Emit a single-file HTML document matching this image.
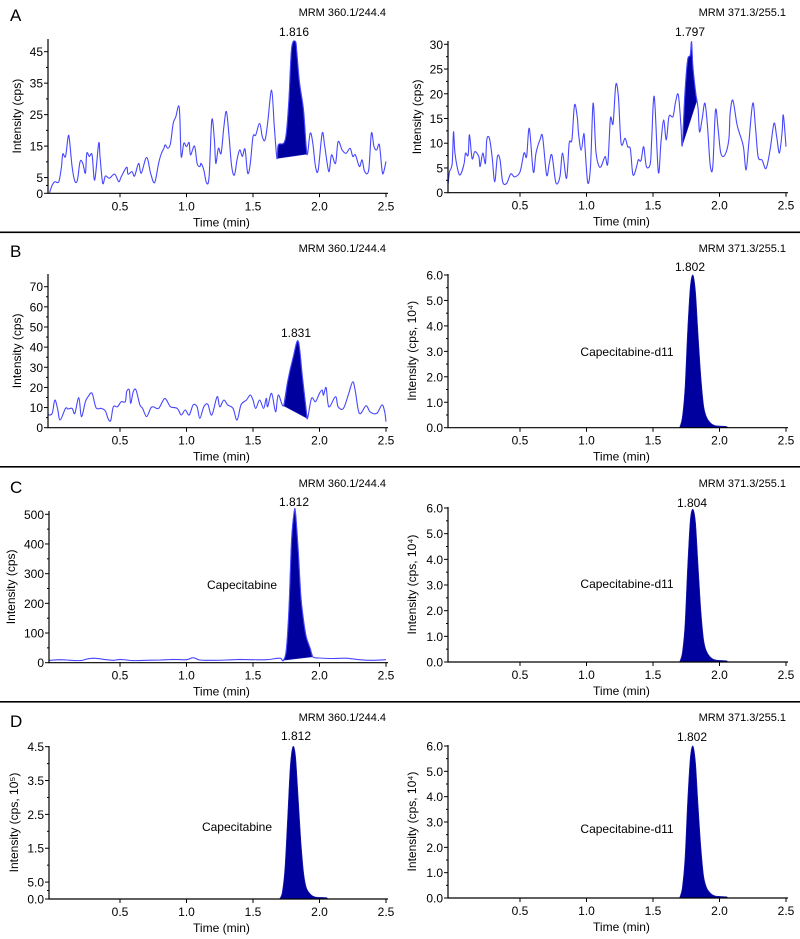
<!DOCTYPE html>
<html><head><meta charset="utf-8"><style>
html,body{margin:0;padding:0;background:#fff;}
svg{display:block;font-family:"Liberation Sans",Arial,sans-serif;}
</style></head><body>
<svg id="fig" width="800" height="939" viewBox="0 0 800 939" xmlns="http://www.w3.org/2000/svg">
<rect x="0" y="0" width="800" height="939" fill="#fff"/>
<rect x="0" y="231.5" width="800" height="1.6" fill="#000"/>
<rect x="0" y="466" width="800" height="1.6" fill="#000"/>
<rect x="0" y="701" width="800" height="1.6" fill="#000"/>
<text x="10" y="21" font-size="17">A</text>
<text x="10" y="257" font-size="17">B</text>
<text x="10" y="493" font-size="17">C</text>
<text x="10" y="727" font-size="17">D</text>
</svg>
<script>
// shared x axis
const xTicks=[0.5,1.0,1.5,2.0,2.5];
const xTickLabels=["0.5","1.0","1.5","2.0","2.5"];

// A left trace
const aLT=[-0.03,-0.01,0.01,0.04,0.06,0.07,0.09,0.11,0.12,0.14,0.16,0.18,0.20,0.22,0.24,0.25,0.27,0.29,0.31,0.34,0.35,0.37,0.39,0.42,0.46,0.49,0.51,0.55,0.56,0.59,0.61,0.64,0.66,0.70,0.73,0.76,0.79,0.81,0.83,0.84,0.86,0.88,0.90,0.92,0.94,0.95,0.96,0.98,1.00,1.02,1.03,1.06,1.08,1.10,1.11,1.13,1.15,1.17,1.19,1.21,1.22,1.24,1.26,1.28,1.30,1.32,1.34,1.36,1.38,1.40,1.42,1.44,1.46,1.48,1.50,1.52,1.55,1.57,1.59,1.61,1.64,1.66,1.68,1.69,1.73,1.75,1.77,1.79,1.82,1.83,1.85,1.88,1.90,1.91,1.93,1.95,1.97,1.99,2.02,2.04,2.07,2.09,2.12,2.14,2.17,2.20,2.23,2.25,2.27,2.30,2.32,2.34,2.37,2.39,2.41,2.43,2.45,2.47,2.48,2.50];
const aLV=[0.2,2.6,3.7,3.7,8.5,12.5,11.7,18.0,16.9,8.5,3.9,4.2,10.1,9.5,6.4,12.7,11.7,12.2,4.2,15.9,11.7,3.2,5.5,4.8,6.1,3.7,5.3,8.3,6.1,6.9,5.5,9.5,6.4,11.4,6.4,3.4,9.5,12.5,14.3,15.4,14.3,15.9,22.2,24.4,27.8,24.4,11.7,15.9,14.8,16.1,12.2,15.0,9.5,8.5,9.5,7.4,3.4,5.3,23.3,16.9,9.5,14.3,12.7,20.7,26.0,18.0,8.5,5.8,10.6,13.8,11.7,14.0,6.4,9.5,18.0,18.5,22.2,18.0,16.9,22.2,32.8,21.2,11.1,15.4,15.9,19.1,29.7,46.1,48.2,44.5,35.0,26.5,14.8,12.5,19.1,15.9,8.5,7.4,19.1,14.8,6.9,12.2,9.5,16.4,13.8,12.7,14.3,11.7,12.2,8.5,10.6,6.9,7.4,19.1,14.8,13.8,15.4,7.4,6.4,10.1];
const aLWin=[1.68,1.91];
const aLYTicks=[0,5,15,25,35,45];
const aLYLabels=["0","5","15","25","35","45"];

// A right trace
const aRT=[-0.04,-0.03,-0.01,0.00,0.01,0.03,0.05,0.08,0.09,0.11,0.12,0.14,0.16,0.19,0.20,0.22,0.24,0.25,0.27,0.29,0.31,0.33,0.35,0.37,0.40,0.43,0.46,0.50,0.53,0.55,0.57,0.60,0.62,0.65,0.67,0.70,0.72,0.74,0.77,0.80,0.82,0.85,0.87,0.89,0.91,0.93,0.94,0.96,0.98,0.99,1.01,1.03,1.05,1.07,1.09,1.11,1.14,1.16,1.18,1.20,1.22,1.24,1.26,1.29,1.31,1.33,1.35,1.38,1.39,1.41,1.43,1.45,1.48,1.49,1.51,1.54,1.56,1.58,1.60,1.62,1.65,1.67,1.69,1.71,1.72,1.74,1.76,1.78,1.79,1.80,1.82,1.83,1.84,1.85,1.87,1.89,1.91,1.93,1.95,1.97,1.99,2.01,2.04,2.07,2.08,2.10,2.13,2.15,2.18,2.20,2.22,2.25,2.27,2.29,2.32,2.35,2.38,2.41,2.43,2.45,2.47,2.48,2.50];
const aRV=[1.9,4.2,5.9,12.3,8.3,4.9,3.6,5.9,8.0,7.6,11.7,6.9,8.3,7.3,5.3,8.0,5.9,10.7,11.0,7.3,2.2,7.3,6.6,2.2,1.9,3.8,3.2,4.2,8.0,7.3,13.0,4.2,8.0,10.7,11.3,3.6,5.9,7.6,2.0,3.2,8.0,2.9,10.0,10.7,17.7,15.4,12.0,8.6,12.0,8.6,2.0,5.3,18.1,8.6,5.6,5.3,7.3,5.9,15.0,14.0,21.8,19.4,10.0,11.0,9.3,8.8,3.6,5.6,6.7,6.5,9.3,5.3,5.9,10.7,19.4,4.2,10.3,14.7,10.7,15.4,15.4,18.4,19.8,13.7,9.6,20.1,26.8,27.8,30.5,25.5,20.4,18.7,16.7,12.3,15.0,18.1,13.4,5.6,5.3,16.7,12.7,8.0,7.6,10.7,16.0,18.7,14.0,12.0,9.3,4.6,10.0,18.1,13.4,7.3,6.6,4.9,8.6,14.0,11.3,8.0,12.0,15.7,9.3];
const aRWin=[1.72,1.83];
const aRYTicks=[0,5,10,15,20,25,30];
const aRYLabels=["0","5","10","15","20","25","30"];

// B left trace
const bLT=[-0.04,-0.01,0.01,0.03,0.05,0.09,0.11,0.14,0.16,0.19,0.21,0.24,0.26,0.29,0.32,0.36,0.39,0.41,0.43,0.45,0.48,0.51,0.54,0.55,0.57,0.58,0.60,0.62,0.65,0.67,0.70,0.73,0.75,0.79,0.83,0.85,0.88,0.93,0.96,0.99,1.02,1.05,1.08,1.10,1.13,1.16,1.19,1.23,1.25,1.28,1.31,1.35,1.38,1.41,1.45,1.48,1.50,1.52,1.55,1.58,1.60,1.61,1.64,1.67,1.69,1.73,1.76,1.80,1.84,1.87,1.90,1.91,1.94,1.97,2.00,2.02,2.03,2.05,2.07,2.12,2.14,2.18,2.22,2.25,2.27,2.30,2.35,2.38,2.43,2.47,2.49,2.50];
const bLV=[6.3,7.1,13.7,9.6,3.8,9.6,9.3,9.6,7.1,14.9,5.5,12.9,15.4,17.1,9.9,9.6,8.3,4.6,3.5,10.4,10.4,12.9,12.9,17.9,18.7,12.1,17.9,18.7,11.3,9.6,5.5,9.6,10.4,9.6,14.2,13.7,10.4,9.6,6.3,8.8,6.3,11.3,10.4,4.6,10.4,11.6,6.3,15.4,10.4,13.7,11.3,9.6,3.8,11.3,13.7,16.2,13.7,9.6,13.7,9.6,14.6,10.4,17.1,7.9,16.2,10.9,22.8,34.4,43.0,26.2,8.8,4.6,14.6,12.9,17.1,18.7,16.2,19.9,10.4,15.4,10.4,9.6,17.1,22.8,17.9,7.1,10.9,7.9,7.1,11.3,7.9,3.0];
const bLWin=[1.73,1.91];
const bLYTicks=[0,10,20,30,40,50,60,70];
const bLYLabels=["0","10","20","30","40","50","60","70"];

// C left trace
const cLT=[-0.03,0.05,0.10,0.20,0.25,0.30,0.35,0.40,0.45,0.50,0.55,0.60,0.70,0.80,0.90,1.00,1.05,1.10,1.20,1.30,1.40,1.50,1.60,1.70,1.72,1.73,1.75,1.77,1.79,1.81,1.82,1.84,1.86,1.88,1.90,1.93,1.95,2.00,2.10,2.20,2.30,2.40,2.50];
const cLV=[8,10,9,7,12,15,13,10,8,11,9,7,8,9,11,10,17,9,8,9,11,10,10,15,8,9,43,178,415,509,503,380,222,144,88,48,20,16,14,15,10,8,10];
const cLWin=[1.72,1.95];
const cLYTicks=[0,100,200,300,400,500];
const cLYLabels=["0","100","200","300","400","500"];

// clean peaks (right panels and D left)
const peakT=[1.70,1.72,1.74,1.76,1.78,1.80,1.82,1.84,1.86,1.88,1.90,1.93,1.97,2.05,2.06];
const bRV=[0,0.4,1.5,3.8,5.5,6.0,5.3,3.6,2.0,0.9,0.45,0.2,0.08,0.05,0];
const cRV=[0,0.35,1.4,3.7,5.5,5.95,5.4,3.7,2.0,0.9,0.45,0.2,0.08,0.05,0];
const dRV=[0,0.4,1.5,3.8,5.5,6.0,5.3,3.6,2.0,0.9,0.45,0.2,0.08,0.05,0];
const dLV=[0,0.2,0.9,2.4,3.9,4.5,4.2,3.0,1.7,0.8,0.35,0.15,0.06,0.04,0];
const rYTicks=[0,1,2,3,4,5,6];
const rYLabels=["0.0","1.0","2.0","3.0","4.0","5.0","6.0"];
const dLYTicks=[0,0.5,1.5,2.5,3.5,4.5];
const dLYLabels=["0.0","5.0","1.5","2.5","3.5","4.5"];

const NS="http://www.w3.org/2000/svg";
const svg=document.getElementById('fig');
function mk(tag,attrs,parent){const e=document.createElementNS(NS,tag);for(const k in attrs)e.setAttribute(k,attrs[k]);(parent||svg).appendChild(e);return e;}
function txt(s,attrs,parent){const e=mk('text',attrs,parent);e.textContent=s;return e;}
function smooth(pts){
  let d='M'+pts[0][0].toFixed(1)+' '+pts[0][1].toFixed(1);
  for(let i=0;i<pts.length-1;i++){
    const p0=pts[Math.max(0,i-1)],p1=pts[i],p2=pts[i+1],p3=pts[Math.min(pts.length-1,i+2)];
    const c1x=p1[0]+(p2[0]-p0[0])/6,c1y=p1[1]+(p2[1]-p0[1])/6;
    const c2x=p2[0]-(p3[0]-p1[0])/6,c2y=p2[1]-(p3[1]-p1[1])/6;
    d+='C'+c1x.toFixed(1)+' '+c1y.toFixed(1)+' '+c2x.toFixed(1)+' '+c2y.toFixed(1)+' '+p2[0].toFixed(1)+' '+p2[1].toFixed(1);
  }
  return d;
}

function panel(c,T,V,win,noisy,yT,yL){
  const g=mk('g',{});
  
  
  const x=t=>c.x0+t*133;
  const y=v=>c.y0-v*(c.y0-c.yPx)/c.vTop;
  let fp=[];
  for(let i=0;i<T.length;i++){if(T[i]>=win[0]-1e-9&&T[i]<=win[1]+1e-9)fp.push([x(T[i]),y(V[i])]);}
  const poly=mk('path',{d:smooth(fp)+'Z',fill:'#00009e',stroke:'#1a1aa8','stroke-width':'0.6'},g);
  
  
  if(noisy){
    const pts=[];
    for(let i=0;i<T.length;i++)pts.push([x(T[i]),y(V[i])]);
    const ln=mk('path',{d:smooth(pts),fill:'none',stroke:'#4747ff','stroke-width':'1.1'},g);
    
    
  }
  const ax=mk('path',{d:'M'+c.ax+' '+c.top+'V'+c.y0+'H'+(c.x0+2.5*133+2),fill:'none',stroke:'#000','stroke-width':'1.2'},g);
  
  
  for(let i=0;i<xTicks.length;i++){
    const tx=x(xTicks[i]);
    mk('line',{x1:tx,x2:tx,y1:c.y0,y2:c.y0+4,stroke:'#000','stroke-width':'1'},g);
    const l=txt(xTickLabels[i],{x:tx,y:c.y0+17,'font-size':'12','text-anchor':'middle'},g);
    
    
  }
  for(let i=0;i<yT.length;i++){
    const ty=y(yT[i]);
    mk('line',{x1:c.ax-4,x2:c.ax,y1:ty,y2:ty,stroke:'#000','stroke-width':'1'},g);
    if(i<yT.length-1){const my=y((yT[i]+yT[i+1])/2);mk('line',{x1:c.ax-2,x2:c.ax,y1:my,y2:my,stroke:'#000','stroke-width':'1'},g);}
    const l=txt(yL[i],{x:c.ax-5,y:ty+4.5,'font-size':'12','text-anchor':'end'},g);
    
    
  }
  const xt=txt('Time (min)',{x:c.x0+168,y:c.y0+33,'font-size':'12','text-anchor':'middle'},g);
  
  
  const ym=(c.top+c.y0)/2;
  const yt=txt(c.ytitle,{x:c.ytx,y:ym,'font-size':'12','text-anchor':'middle',transform:'rotate(-90 '+c.ytx+' '+ym+')',dy:'4'},g);
  
  
  const mt=txt(c.mrm,{x:c.x0+2.5*133,y:c.mrmY,'font-size':'11','text-anchor':'end'},g);
  
  
  const pl=txt(c.peak,{x:c.peakX,y:c.peakY,'font-size':'12','text-anchor':'middle'},g);
  
  
  if(c.cmp){
    const cl=txt(c.cmp,{x:c.cmpX,y:c.cmpY,'font-size':'12','text-anchor':'middle'},g);
    
    
  }
}
const yc4='Intensity (cps, 10\u2074)';
panel({name:'panel-a-left',x0:53.5,ax:48,y0:193.3,yPx:51.7,vTop:45,top:39,ytitle:'Intensity (cps)',ytx:17,mrm:'MRM 360.1/244.4',mrmY:16,peak:'1.816',peakX:294,peakY:36},aLT,aLV,aLWin,true,aLYTicks,aLYLabels);
panel({name:'panel-a-right',x0:453.5,ax:448,y0:192.7,yPx:44.3,vTop:30,top:41,ytitle:'Intensity (cps)',ytx:417,mrm:'MRM 371.3/255.1',mrmY:16,peak:'1.797',peakX:690,peakY:36},aRT,aRV,aRWin,true,aRYTicks,aRYLabels);
panel({name:'panel-b-left',x0:53.5,ax:48,y0:427.7,yPx:286.7,vTop:70,top:274,ytitle:'Intensity (cps)',ytx:17,mrm:'MRM 360.1/244.4',mrmY:252,peak:'1.831',peakX:296,peakY:337},bLT,bLV,bLWin,true,bLYTicks,bLYLabels);
panel({name:'panel-b-right',x0:453.5,ax:448,y0:427.7,yPx:275,vTop:6,top:274,ytitle:yc4,ytx:412,mrm:'MRM 371.3/255.1',mrmY:252,peak:'1.802',peakX:690,peakY:271,cmp:'Capecitabine-d11',cmpX:627,cmpY:356},peakT,bRV,[0,9],false,rYTicks,rYLabels);
panel({name:'panel-c-left',x0:53.5,ax:49,y0:662.7,yPx:514.3,vTop:500,top:511,ytitle:'Intensity (cps)',ytx:11,mrm:'MRM 360.1/244.4',mrmY:487,peak:'1.812',peakX:294,peakY:506,cmp:'Capecitabine',cmpX:242,cmpY:589},cLT,cLV,cLWin,true,cLYTicks,cLYLabels);
panel({name:'panel-c-right',x0:453.5,ax:448,y0:662,yPx:508,vTop:6,top:507,ytitle:yc4,ytx:412,mrm:'MRM 371.3/255.1',mrmY:487,peak:'1.804',peakX:692,peakY:507,cmp:'Capecitabine-d11',cmpX:627,cmpY:588},peakT,cRV,[0,9],false,rYTicks,rYLabels);
panel({name:'panel-d-left',x0:53.5,ax:49,y0:899,yPx:746.7,vTop:4.5,top:746,ytitle:'Intensity (cps, 10\u2075)',ytx:14,mrm:'MRM 360.1/244.4',mrmY:721,peak:'1.812',peakX:296,peakY:740,cmp:'Capecitabine',cmpX:237,cmpY:831},peakT,dLV,[0,9],false,dLYTicks,dLYLabels);
panel({name:'panel-d-right',x0:453.5,ax:448,y0:898,yPx:746,vTop:6,top:745,ytitle:yc4,ytx:412,mrm:'MRM 371.3/255.1',mrmY:721,peak:'1.802',peakX:692,peakY:741,cmp:'Capecitabine-d11',cmpX:627,cmpY:833},peakT,dRV,[0,9],false,rYTicks,rYLabels);
</script>
</body></html>
